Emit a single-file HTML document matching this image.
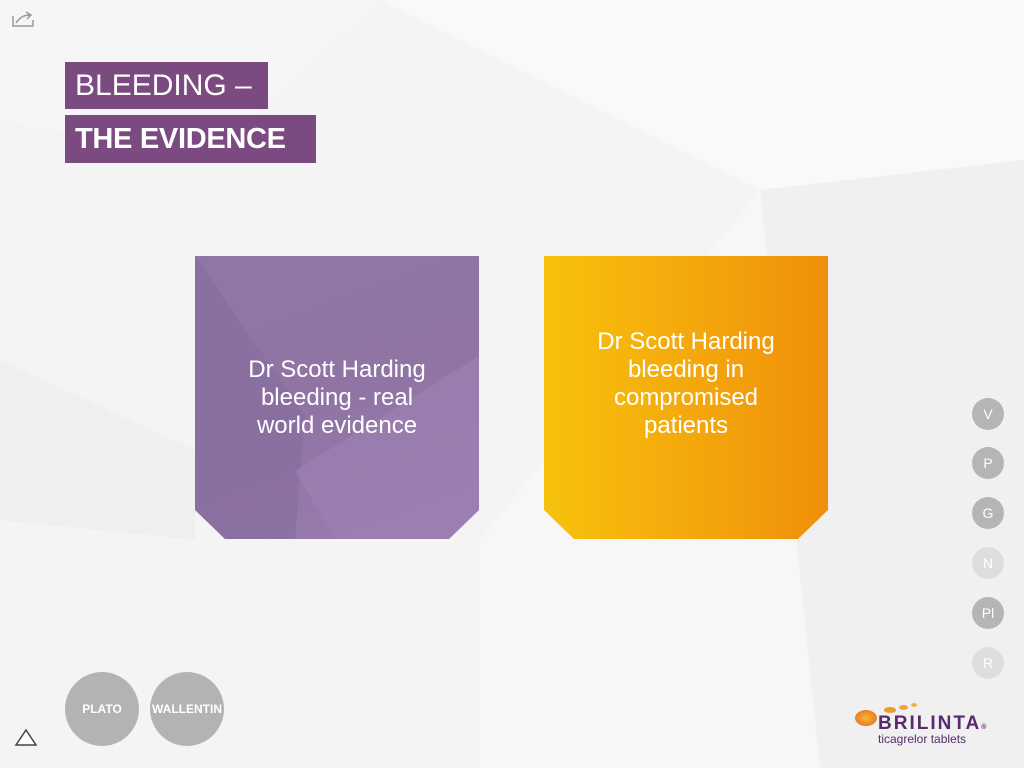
<!DOCTYPE html>
<html><head><meta charset="utf-8"><style>
html,body{margin:0;padding:0;}
body{width:1024px;height:768px;position:relative;overflow:hidden;background:#f4f4f4;font-family:"Liberation Sans",sans-serif;}
.bg{position:absolute;left:0;top:0;}
.title{position:absolute;background:#7b4a80;color:#fff;white-space:nowrap;overflow:hidden;}
.card{position:absolute;width:284px;height:283px;top:256px;color:#fff;font-size:24px;line-height:28px;text-align:center;display:flex;align-items:center;justify-content:center;clip-path:polygon(0 0,100% 0,100% 254px,254px 100%,30px 100%,0 254px);}
.nav{position:absolute;left:972px;width:32px;height:32px;border-radius:50%;background:#b5b5b5;color:#fff;font-size:14px;text-align:center;line-height:32px;}
.nav.dim{background:#dedede;}
.big{position:absolute;top:672px;width:74px;height:74px;border-radius:50%;background:#b3b3b3;color:#fff;font-size:12px;font-weight:bold;text-align:center;line-height:74px;}
</style></head><body>
<svg class="bg" width="1024" height="768">
<rect width="1024" height="768" fill="#f4f4f4"/>
<polygon points="380,0 1024,0 1024,160 760,190" fill="#f9f9f9"/>
<polygon points="760,190 1024,160 1024,768 820,768" fill="#f0f0f0"/>
<polygon points="0,360 195,450 195,540 0,520" fill="#efefef"/>
<polygon points="0,0 380,0 200,160 0,120" fill="#f6f6f6"/>
<polygon points="480,540 760,190 820,768 480,768" fill="#f7f7f7"/>
</svg>
<svg style="position:absolute;left:11px;top:10px" width="24" height="18"><path d="M2 6 v10 h20 v-6" fill="none" stroke="#999" stroke-width="1.5"/><path d="M5 13 q5-8 14-8 M15 2 l5 3 -4 4" fill="none" stroke="#999" stroke-width="1.5"/></svg>
<div class="title" style="left:65px;top:62px;width:203px;height:47px;font-size:30px;line-height:47px;padding-left:10px;box-sizing:border-box;">BLEEDING –</div>
<div class="title" style="left:65px;top:115px;width:251px;height:48px;font-size:29px;line-height:48px;padding-left:10px;box-sizing:border-box;font-weight:bold;letter-spacing:-0.3px;">THE EVIDENCE</div>
<div class="card" style="left:195px;background:linear-gradient(160deg,#8e77a6 0%,#8f74a4 50%,#9a7db0 100%);"><svg style="position:absolute;left:0;top:0" width="284" height="283"><polygon points="0,0 110,160 100,283 0,283" fill="#856d9c" opacity="0.6"/><polygon points="100,215 284,100 284,283 140,283" fill="#9d80b3" opacity="0.7"/></svg><span style="position:relative">Dr Scott Harding<br>bleeding - real<br>world evidence</span></div>
<div class="card" style="left:544px;background:linear-gradient(90deg,#f7c20c 0%,#f4a90c 50%,#ef8f0a 100%);"><span style="position:relative;margin-top:-28px">Dr Scott Harding<br>bleeding in<br>compromised<br>patients</span></div>
<div class="nav" style="top:398px">V</div>
<div class="nav" style="top:447px">P</div>
<div class="nav" style="top:497px">G</div>
<div class="nav dim" style="top:547px">N</div>
<div class="nav" style="top:597px">Pl</div>
<div class="nav dim" style="top:647px">R</div>
<div class="big" style="left:65px">PLATO</div>
<div class="big" style="left:150px">WALLENTIN</div>
<svg style="position:absolute;left:14px;top:728px" width="24" height="20"><polygon points="12,2 22,17 2,17" fill="#fff" stroke="#444" stroke-width="1.5"/></svg>
<div style="position:absolute;left:852px;top:703px;width:170px;height:50px">
<div style="position:absolute;left:3px;top:7px;width:22px;height:16px;border-radius:50%;background:radial-gradient(#f7b53a,#e2671a);"></div>
<div style="position:absolute;left:32px;top:4px;width:12px;height:6px;border-radius:50%;background:#f29a2e;"></div>
<div style="position:absolute;left:47px;top:2px;width:9px;height:5px;border-radius:50%;background:#f2a53a;"></div>
<div style="position:absolute;left:59px;top:0px;width:6px;height:4px;border-radius:50%;background:#f2b04a;"></div>
<div style="position:absolute;left:26px;top:10px;font-size:19px;font-weight:bold;color:#5b2a6e;letter-spacing:2px;">BRILINTA<span style="font-size:7px">®</span></div>
<div style="position:absolute;left:26px;top:29px;font-size:12px;color:#5b2a6e;">ticagrelor tablets</div>
</div>
</body></html>
